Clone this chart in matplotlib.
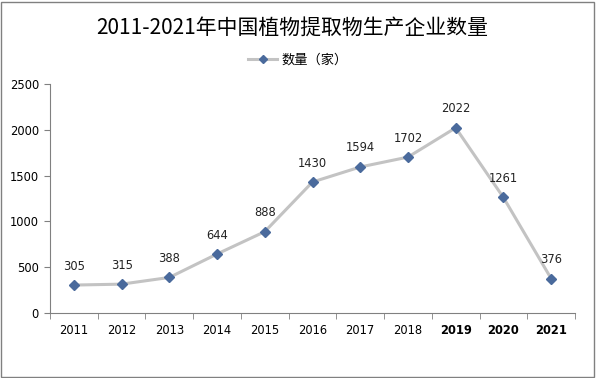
import matplotlib.pyplot as plt
from matplotlib.lines import Line2D
from matplotlib.patches import Rectangle
import numpy as np

plt.rcParams['font.family'] = ['DejaVu Sans', 'Noto Sans CJK SC']

years = ['2011', '2012', '2013', '2014', '2015', '2016', '2017', '2018', '2019', '2020', '2021']
counts = [305, 315, 388, 644, 888, 1430, 1594, 1702, 2022, 1261, 376]
bold_years = ['2019', '2020', '2021']

W, H = 596, 378
fig = plt.figure(figsize=(W / 100, H / 100), dpi=100)
ax = fig.add_axes([50 / W, 1 - 313 / H, 525 / W, 229 / H])

x = np.arange(len(years))
ax.plot(x, counts, color='#C3C3C3', lw=2.2, zorder=2)
ax.plot(x, counts, ls='none', marker='D', ms=5, color='#4A6A9C', zorder=3)
for xi, v in zip(x, counts):
    ax.annotate(str(v), (xi, v), xytext=(0, 9), textcoords='offset points',
                ha='center', va='bottom', fontsize=8.3, color='#222222')

ax.set_xlim(-0.5, len(years) - 0.5)
ax.set_ylim(0, 2500)
ax.set_yticks(range(0, 2501, 500))
ax.set_xticks(x)
ax.set_xticklabels(years)
for lbl in ax.get_xticklabels():
    if lbl.get_text() in bold_years:
        lbl.set_fontweight('bold')
ax.set_xticks(np.arange(-0.5, len(years)), minor=True)
ax.tick_params(axis='x', which='major', length=0, labelsize=8.3, pad=8)
ax.tick_params(axis='x', which='minor', length=4, color='#808080', direction='out')
ax.tick_params(axis='y', length=4, color='#808080', labelsize=8.3, pad=4)
for s in ['top', 'right']:
    ax.spines[s].set_visible(False)
for s in ['left', 'bottom']:
    ax.spines[s].set_color('#808080')

fig.text(0.49, 1 - 28 / H, '2011-2021年中国植物提取物生产企业数量', ha='center', va='center',
         fontsize=15, family=['Noto Sans CJK SC'])

handle = Line2D([], [], color='#C3C3C3', lw=2.2, marker='D', ms=4,
                markerfacecolor='#4A6A9C', markeredgecolor='#4A6A9C')
fig.legend([handle], ['数量（家）'], loc='center', bbox_to_anchor=(0.5, 1 - 60 / H),
           frameon=False, prop={'family': 'Noto Sans CJK SC', 'size': 9.5},
           handlelength=2.2, handletextpad=0.3)

fig.patches.append(Rectangle((1 / W, 1 / H), (W - 3) / W, (H - 3) / H, transform=fig.transFigure,
                             fill=False, edgecolor='#808080', lw=1))

fig.savefig('out.png', dpi=100)
